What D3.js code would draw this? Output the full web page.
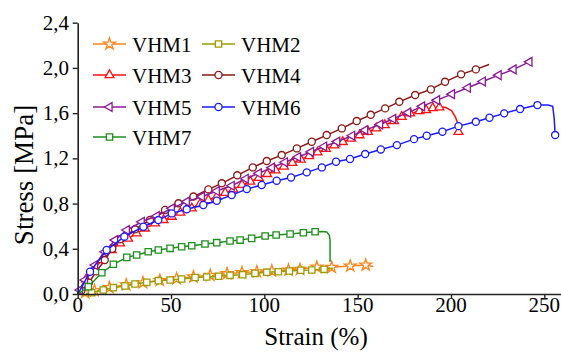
<!DOCTYPE html>
<html>
<head>
<meta charset="utf-8">
<script src="https://cdn.jsdelivr.net/npm/d3@7"></script>
</head>
<body style="margin:0">
<script>
const xTicks = [0, 50, 100, 150, 200, 250];
const yTicks = [0, 0.4, 0.8, 1.2, 1.6, 2.0, 2.4];
const seriesNames = ['VHM1', 'VHM2', 'VHM3', 'VHM4', 'VHM5', 'VHM6', 'VHM7'];

// marker points (strain %, stress MPa)
const vhm1Strain = [4, 9, 17, 26, 35, 44, 53, 62, 71, 80, 88, 96, 104, 112.9, 119.1, 128.1, 136.1, 146, 154.3];
const vhm1Stress = [0.012, 0.03, 0.057, 0.082, 0.1, 0.12, 0.136, 0.152, 0.166, 0.18, 0.19, 0.197, 0.204, 0.212, 0.218, 0.238, 0.236, 0.248, 0.256];
const vhm2Strain = [7.5, 13.7, 19.1, 25.3, 30.7, 37, 43.2, 49.5, 55.7, 62.9, 69.1, 75.5, 81.6, 88.4, 95, 101.3, 107.5, 113.4, 119.5, 125.4, 132];
const vhm2Stress = [0.011, 0.035, 0.056, 0.071, 0.088, 0.103, 0.118, 0.124, 0.133, 0.146, 0.15, 0.157, 0.165, 0.171, 0.183, 0.192, 0.197, 0.203, 0.21, 0.212, 0.218];
const vhm3Strain = [4.5, 8.4, 12.9, 18.2, 22.7, 27, 31.6, 36, 41.4, 46, 50.4, 55, 61.1, 65.5, 70, 74.5, 79, 83.4, 88, 92.5, 97, 101.5, 106, 110.5, 115, 119.5, 124, 128.5, 133, 137.5, 142, 146.5, 151, 155.5, 160, 164.5, 169.5, 173.6, 178.1, 183.1, 186.7, 190.2, 193.8];
const vhm3Stress = [0.13, 0.212, 0.3, 0.389, 0.448, 0.49, 0.537, 0.58, 0.625, 0.655, 0.684, 0.72, 0.758, 0.795, 0.831, 0.862, 0.895, 0.925, 0.965, 0.995, 1.028, 1.062, 1.095, 1.128, 1.16, 1.19, 1.22, 1.253, 1.285, 1.315, 1.345, 1.375, 1.405, 1.435, 1.465, 1.495, 1.53, 1.568, 1.598, 1.618, 1.627, 1.645, 1.651];
const vhm4Strain = [2, 6, 10, 14.5, 18.5, 22.7, 30.7, 38.7, 46.8, 54, 62, 70, 77.2, 85.5, 93.8, 101.3, 109.3, 117.4, 125.4, 133.4, 141.5, 149.5, 157, 164.7, 172.3, 180.8, 189.2, 196.8, 205.4, 213.3];
const vhm4Stress = [0.03, 0.1, 0.2, 0.3, 0.4, 0.484, 0.572, 0.654, 0.743, 0.802, 0.862, 0.925, 0.979, 1.05, 1.12, 1.176, 1.229, 1.288, 1.347, 1.406, 1.465, 1.53, 1.585, 1.642, 1.7, 1.76, 1.81, 1.877, 1.943, 1.987];
const vhm5Strain = [1.2, 3.9, 9.3, 14.6, 20, 26.3, 34.3, 42.3, 50.4, 58.4, 66.5, 74.5, 82.5, 90, 97, 104, 111, 118, 125, 132, 139, 147, 154, 162, 169, 177, 184.5, 192.5, 200.5, 209, 217, 225.5, 233.5, 242];
const vhm5Stress = [0.035, 0.124, 0.256, 0.374, 0.477, 0.566, 0.639, 0.69, 0.758, 0.817, 0.861, 0.911, 0.958, 1.02, 1.068, 1.118, 1.166, 1.212, 1.257, 1.305, 1.348, 1.4, 1.45, 1.5, 1.55, 1.605, 1.66, 1.715, 1.768, 1.824, 1.88, 1.936, 1.987, 2.054];
const vhm6Strain = [6.6, 15.5, 25, 35.2, 43.2, 50.4, 58.4, 67.3, 74.5, 82.5, 90.6, 98.6, 106.6, 114.3, 122.7, 130.8, 138.4, 145.9, 154, 162.4, 171, 180.2, 187, 195.4, 204, 213.3, 220.6, 228.5, 237, 246.3];
const vhm6Stress = [0.197, 0.389, 0.507, 0.595, 0.654, 0.713, 0.749, 0.787, 0.825, 0.875, 0.928, 0.964, 1.002, 1.031, 1.076, 1.12, 1.17, 1.194, 1.238, 1.279, 1.317, 1.37, 1.4, 1.435, 1.485, 1.523, 1.559, 1.598, 1.636, 1.671];
const vhm7Strain = [5.7, 12.9, 19.1, 26.3, 31.6, 37.8, 43.2, 49.5, 55.7, 61.1, 68.2, 74.5, 81.6, 87, 93.2, 100.4, 106.3, 113.8, 120.9, 127.2];
const vhm7Stress = [0.065, 0.188, 0.263, 0.324, 0.345, 0.374, 0.389, 0.404, 0.418, 0.427, 0.442, 0.454, 0.469, 0.477, 0.492, 0.513, 0.522, 0.531, 0.542, 0.551];

// line-only pieces before the first marker and after the last one
const headStrain = [[0], [4.5], [0, 2], [0], [0], [0, 1.5], [0, 2]];
const headStress = [[0], [0], [0, 0.07], [0], [0], [0, 0.04], [0, 0.02]];
const tailStrain = [[158.4], [136.8], [197, 200.4, 202.5, 203.8, 204], [220.4], [], [252, 254.5, 255.3, 255.8], [131, 133.5, 134.8, 135.2, 135.2]];
const tailStress = [[0.243], [0.227], [1.652, 1.62, 1.56, 1.5, 1.435], [2.03], [], [1.671, 1.66, 1.55, 1.406], [0.553, 0.548, 0.52, 0.48, 0.286]];
const endMarker = [false, false, true, false, false, true, false];

const colors = ['#ff8419', '#9c9c00', '#ff1010', '#8b1616', '#8b1a96', '#1a1aff', '#1f8f1f'];
const shapes = ['star', 'square', 'triUp', 'circle', 'triLeft', 'circle', 'square'];

const strains = [vhm1Strain, vhm2Strain, vhm3Strain, vhm4Strain, vhm5Strain, vhm6Strain, vhm7Strain];
const stresses = [vhm1Stress, vhm2Stress, vhm3Stress, vhm4Stress, vhm5Stress, vhm6Stress, vhm7Stress];

const width = 561;
const height = 354;
const fontFam = "'Liberation Serif'";

const svg = d3.select('body')
  .append('svg')
  .attr('width', width)
  .attr('height', height);

// all texts first, straight on the svg root
const x = d3.scaleLinear().domain([0, 260]).range([77.7, 563]);
const y = d3.scaleLinear().domain([0, 2.4]).range([294, 22.7]);
const fmt = d => d3.format('.1f')(d).replace('.', ',');

svg.selectAll('text.xt')
  .data(xTicks)
  .enter()
  .append('text')
  .attr('class', 'xt')
  .attr('x', d => x(d))
  .attr('y', 312)
  .attr('text-anchor', 'middle')
  .attr('font-size', 21)
  .style('font-family', fontFam)
  .text(d => d);

svg.selectAll('text.yt')
  .data(yTicks)
  .enter()
  .append('text')
  .attr('class', 'yt')
  .attr('x', 69)
  .attr('y', d => y(d) + 7)
  .attr('text-anchor', 'end')
  .attr('font-size', 21)
  .style('font-family', fontFam)
  .text(fmt);

svg.append('text')
  .attr('x', 316)
  .attr('y', 345)
  .attr('text-anchor', 'middle')
  .attr('font-size', 25)
  .style('font-family', fontFam)
  .text('Strain (%)');

svg.append('text')
  .attr('transform', 'translate(33,175) rotate(-90)')
  .attr('text-anchor', 'middle')
  .attr('font-size', 27)
  .style('font-family', fontFam)
  .text('Stress [MPa]');

const legRows = [44, 75, 107, 137];
const legCols = [93, 202];
svg.selectAll('text.leg')
  .data(seriesNames)
  .enter()
  .append('text')
  .attr('class', 'leg')
  .attr('x', (d, i) => legCols[i % 2] + 39)
  .attr('y', (d, i) => legRows[Math.floor(i / 2)] + 7.5)
  .attr('font-size', 21)
  .style('font-family', fontFam)
  .text(d => d);

const symbolFor = s => {
  if (s === 'star') return d3.symbol().type(d3.symbolStar).size(42)();
  if (s === 'square') return d3.symbol().type(d3.symbolSquare).size(40)();
  if (s === 'circle') return d3.symbol().type(d3.symbolCircle).size(40)();
  return d3.symbol().type(d3.symbolTriangle).size(34)();
};
const rotFor = s => (s === 'triLeft' ? ' rotate(-90)' : '');

const line = d3.line().x(d => x(d[0])).y(d => y(d[1]));

seriesNames.forEach((name, i) => {
  const head = headStrain[i].map((v, j) => [v, headStress[i][j]]);
  const main = strains[i].map((v, j) => [v, stresses[i][j]]);
  const tail = tailStrain[i].map((v, j) => [v, tailStress[i][j]]);
  const g = svg.append('g').attr('class', 'series');
  g.append('path')
    .datum(head.concat(main, tail))
    .attr('fill', 'none')
    .attr('stroke', colors[i])
    .attr('stroke-width', 1.5)
    .attr('d', line);
  const marks = endMarker[i] ? main.concat([tail[tail.length - 1]]) : main;
  g.selectAll('path.mark')
    .data(marks)
    .enter()
    .append('path')
    .attr('class', 'mark')
    .attr('d', symbolFor(shapes[i]))
    .attr('transform', d => 'translate(' + x(d[0]) + ',' + y(d[1]) + ')' + rotFor(shapes[i]))
    .attr('fill', '#fff')
    .attr('stroke', colors[i])
    .attr('stroke-width', 1.3);
});

// axes: lines and ticks from d3, labels drawn above
const xAxis = d3.axisBottom(x).tickValues(xTicks).tickSizeInner(5).tickSizeOuter(0).tickFormat('');
const yAxis = d3.axisLeft(y).tickValues(yTicks).tickSizeInner(5).tickSizeOuter(0).tickFormat('');
const gx = svg.append('g').attr('transform', 'translate(0,' + y(0) + ')').call(xAxis);
const gy = svg.append('g').attr('transform', 'translate(' + x(0) + ',0)').call(yAxis);
[gx, gy].forEach(g => {
  g.selectAll('.tick text').remove();
  g.select('.domain').attr('stroke', '#222').attr('stroke-width', 1.6);
  g.selectAll('.tick line').attr('stroke', '#222').attr('stroke-width', 1.4);
});

// legend keys
seriesNames.forEach((name, i) => {
  const lx = legCols[i % 2];
  const ly = legRows[Math.floor(i / 2)];
  const g = svg.append('g').attr('transform', 'translate(' + lx + ',' + ly + ')');
  g.append('line')
    .attr('x1', 0).attr('x2', 33)
    .attr('y1', 0).attr('y2', 0)
    .attr('stroke', colors[i])
    .attr('stroke-width', 1.5);
  g.append('path')
    .attr('d', symbolFor(shapes[i]))
    .attr('transform', 'translate(16.5,0)' + rotFor(shapes[i]))
    .attr('fill', '#fff')
    .attr('stroke', colors[i])
    .attr('stroke-width', 1.3);
});
</script>
</body>
</html>
